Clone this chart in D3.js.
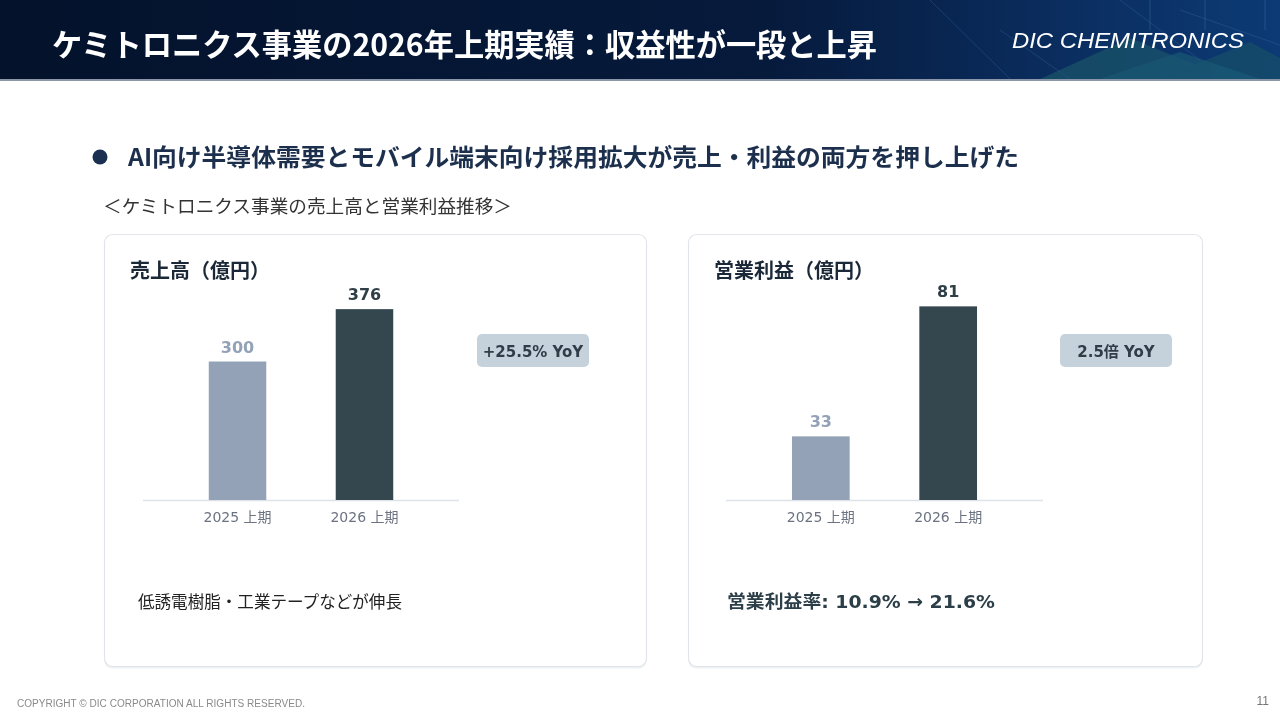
<!DOCTYPE html>
<html lang="ja">
<head>
<meta charset="UTF-8">
<title>ケミトロニクス事業の2026年上期実績</title>
<script src="https://cdn.jsdelivr.net/npm/d3@7/dist/d3.min.js"></script>
<style>
  html, body { margin: 0; padding: 0; background: #fff; }
  svg { display: block; }
</style>
</head>
<body>
<svg id="slide" width="1280" height="720"></svg>
<script>
// chart data
const periods = ["2025 上期", "2026 上期"];
const salesValues = [300, 376];
const profitValues = [33, 81];
const salesBadge = "+25.5% YoY";
const profitBadge = "2.5倍 YoY";
const salesNote = "低誘電樹脂・工業テープなどが伸長";
const profitNote = "営業利益率: 10.9% → 21.6%";

const JP = "'Noto Sans CJK JP', 'Noto Sans', sans-serif";
const NUM = "'DejaVu Sans', 'Noto Sans CJK JP', sans-serif";

const svg = d3.select("#slide");
const defs = svg.append("defs");

// header background
const hg = defs.append("linearGradient").attr("id", "hdr").attr("x1", 0).attr("x2", 1);
hg.append("stop").attr("offset", "0").attr("stop-color", "#04122b");
hg.append("stop").attr("offset", "0.6").attr("stop-color", "#061a3c");
hg.append("stop").attr("offset", "0.85").attr("stop-color", "#0b2f62");
hg.append("stop").attr("offset", "1").attr("stop-color", "#0c3a74");

svg.append("rect").attr("x", 0).attr("y", 0).attr("width", 1280).attr("height", 79).attr("fill", "url(#hdr)");

// circuit-ish decoration on the right of the header
const deco = svg.append("g").attr("opacity", 0.6);
deco.append("polygon").attr("points", "1040,79 1130,38 1230,79").attr("fill", "#1d5c6a");
deco.append("polygon").attr("points", "1160,79 1250,42 1280,58 1280,79").attr("fill", "#1a5468");
deco.append("polygon").attr("points", "1100,79 1180,52 1260,79").attr("fill", "#23707a").attr("opacity", 0.7);
[[930, 0, 1010, 79], [1120, 0, 1200, 60], [1180, 10, 1280, 45], [1000, 30, 1070, 79]].forEach(l => {
  deco.append("line").attr("x1", l[0]).attr("y1", l[1]).attr("x2", l[2]).attr("y2", l[3])
    .attr("stroke", "#3a6ea8").attr("stroke-width", 1).attr("opacity", 0.6);
});
[1150, 1205, 1265].forEach(x => {
  deco.append("line").attr("x1", x).attr("y1", 0).attr("x2", x).attr("y2", 30)
    .attr("stroke", "#4a7fb8").attr("stroke-width", 1.2).attr("opacity", 0.5);
});
svg.append("rect").attr("x", 0).attr("y", 79).attr("width", 1280).attr("height", 2).attr("fill", "#8c96aa");

svg.append("text").attr("x", 52).attr("y", 56)
  .attr("font-family", JP).attr("font-weight", 700).attr("font-size", 31)
  .attr("fill", "#fff").attr("textLength", 825).attr("lengthAdjust", "spacingAndGlyphs")
  .text("ケミトロニクス事業の2026年上期実績：収益性が一段と上昇");

svg.append("text").attr("x", 1244).attr("y", 48).attr("text-anchor", "end")
  .attr("font-family", "'Liberation Sans', Arial, sans-serif").attr("font-style", "italic")
  .attr("font-size", 22).attr("fill", "#fff")
  .attr("textLength", 232).attr("lengthAdjust", "spacingAndGlyphs")
  .text("DIC CHEMITRONICS");

// key message
svg.append("circle").attr("cx", 100).attr("cy", 157).attr("r", 7.5).attr("fill", "#1b3050");
svg.append("text").attr("x", 128).attr("y", 166)
  .attr("font-family", JP).attr("font-weight", 700).attr("font-size", 24)
  .attr("fill", "#1c2f4c").attr("textLength", 891).attr("lengthAdjust", "spacingAndGlyphs")
  .text("AI向け半導体需要とモバイル端末向け採用拡大が売上・利益の両方を押し上げた");

svg.append("text").attr("x", 103).attr("y", 213)
  .attr("font-family", JP).attr("font-size", 18.5)
  .attr("fill", "#333").attr("textLength", 409).attr("lengthAdjust", "spacingAndGlyphs")
  .text("＜ケミトロニクス事業の売上高と営業利益推移＞");

// one card with a bar chart
function card(opt) {
  const g = svg.append("g");
  g.append("rect").attr("x", opt.x + 0.5).attr("y", 235.5).attr("width", opt.w).attr("height", 433)
    .attr("rx", 8).attr("fill", "#eef1f4");
  g.append("rect").attr("x", opt.x + 0.5).attr("y", 234.5).attr("width", opt.w).attr("height", 432)
    .attr("rx", 8).attr("fill", "#fff").attr("stroke", "#e1e5ea").attr("stroke-width", 1.2);

  g.append("text").attr("x", opt.x + 26).attr("y", 278)
    .attr("font-family", JP).attr("font-weight", 700).attr("font-size", 20)
    .attr("fill", "#1b2838").text(opt.title);

  const x = d3.scaleBand().domain(periods).range(opt.axis)
    .paddingInner(0.547).paddingOuter(0.518);
  const y = d3.scaleLinear().domain(opt.domain).range([500, opt.top]);
  const colors = ["#93a2b7", "#34474f"];
  const labelColors = ["#93a2b7", "#2f3f47"];

  const data = periods.map((p, i) => ({ p, v: opt.values[i], i }));

  g.append("line").attr("x1", opt.axis[0]).attr("x2", opt.axis[1])
    .attr("y1", 500.5).attr("y2", 500.5).attr("stroke", "#dfe3e8").attr("stroke-width", 1.5);

  g.selectAll(".bar").data(data).join("rect")
    .attr("x", d => x(d.p)).attr("width", x.bandwidth())
    .attr("y", d => y(d.v)).attr("height", d => 500 - y(d.v))
    .attr("fill", d => colors[d.i]);

  g.selectAll(".val").data(data).join("text")
    .attr("x", d => x(d.p) + x.bandwidth() / 2).attr("y", d => y(d.v) - 9)
    .attr("text-anchor", "middle").attr("font-family", NUM).attr("font-weight", 700)
    .attr("font-size", 16).attr("fill", d => labelColors[d.i])
    .text(d => d.v);

  const ax = g.append("g").attr("transform", "translate(0,500)")
    .call(d3.axisBottom(x).tickSize(0).tickPadding(12));
  ax.select(".domain").remove();
  ax.selectAll("text").attr("font-family", NUM).attr("font-size", 14).attr("fill", "#6b7380");

  // YoY badge
  g.append("rect").attr("x", opt.badge[0]).attr("y", 334).attr("width", opt.badge[1]).attr("height", 33)
    .attr("rx", 5).attr("fill", "#c5d2dc");
  g.append("text").attr("x", opt.badge[0] + opt.badge[1] / 2).attr("y", 357)
    .attr("text-anchor", "middle").attr("font-family", NUM).attr("font-weight", 700)
    .attr("font-size", 15).attr("fill", "#2e3d47").text(opt.badgeText);

  // footnote
  g.append("text").attr("x", opt.note[0]).attr("y", 608)
    .attr("font-family", opt.noteBold ? NUM : JP).attr("font-weight", opt.noteBold ? 700 : 400)
    .attr("font-size", opt.noteBold ? 18 : 17).attr("fill", opt.noteBold ? "#2c3e48" : "#222")
    .attr("textLength", opt.note[1]).attr("lengthAdjust", "spacingAndGlyphs")
    .text(opt.noteText);
}

card({
  x: 104, w: 542, title: "売上高（億円）", values: salesValues,
  axis: [143, 459], domain: [99, 400], top: 292.6,
  badge: [477, 112], badgeText: salesBadge,
  note: [138, 264], noteText: salesNote, noteBold: false
});
card({
  x: 688, w: 514, title: "営業利益（億円）", values: profitValues,
  axis: [726, 1043], domain: [9.5, 90], top: 282,
  badge: [1060, 112], badgeText: profitBadge,
  note: [727, 268], noteText: profitNote, noteBold: true
});

// footer
svg.append("text").attr("x", 17).attr("y", 707)
  .attr("font-family", "'Liberation Sans', Arial, sans-serif").attr("font-size", 10)
  .attr("fill", "#8a8a8a").attr("textLength", 288).attr("lengthAdjust", "spacingAndGlyphs")
  .text("COPYRIGHT © DIC CORPORATION ALL RIGHTS RESERVED.");
svg.append("text").attr("x", 1269).attr("y", 705).attr("text-anchor", "end")
  .attr("font-family", "'Liberation Sans', Arial, sans-serif").attr("font-size", 12)
  .attr("fill", "#777").text("11");
</script>
</body>
</html>
